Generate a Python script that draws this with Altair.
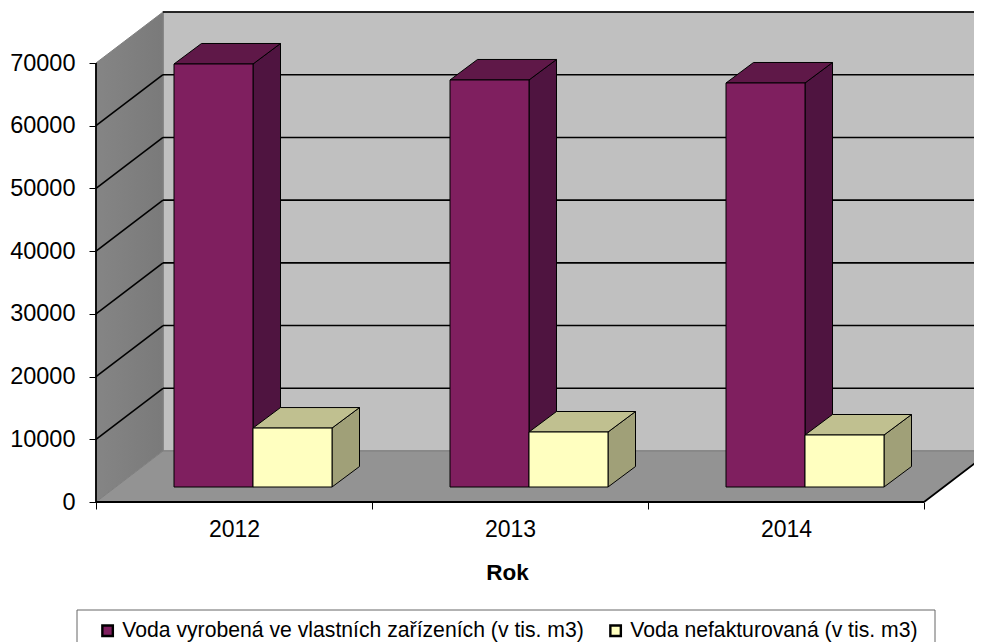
import altair as alt
import pandas as pd

years = ["2012", "2013", "2014"]
series_a = "Voda vyrobená ve vlastních zařízeních (v tis. m3)"
series_b = "Voda nefakturovaná (v tis. m3)"
values_a = [67450, 64900, 64420]
values_b = [9400, 8770, 8290]
y_ticks = [0, 10000, 20000, 30000, 40000, 50000, 60000, 70000]
y_max = 70000
n_cat = len(years)

# pseudo-3D geometry, in data units of the x (categories) and y (value) scales
DX = 67 / 276          # wall depth along x
DY = 51 / 439 * y_max  # wall depth along y
BAR_DX = 27.5 / 276    # bar depth
BAR_DY = 20.5 / 439 * y_max
BAR_X0 = 78 / 276      # gap to first bar
BAR_W = 79 / 276
BASE_Y = 15 / 439 * y_max  # bars stand on the floor, in front of the wall


def v_face(name, x0, x1, y0, y1, y0b, y1b):
    return [dict(face=name, x=x0, y=y0, y2=y1), dict(face=name, x=x1, y=y0b, y2=y1b)]


def h_face(name, y0, y1, x0, x1, x0b, x1b):
    return [dict(face=name, y=y0, x=x0, x2=x1), dict(face=name, y=y1, x=x0b, x2=x1b)]


def bar_faces(vals, slot, label):
    front, side, top = [], [], []
    for i, v in enumerate(vals):
        x0 = i + BAR_X0 + slot * BAR_W
        x1 = x0 + BAR_W
        yt = BASE_Y + v
        front += v_face(f"f{i}", x0, x1, BASE_Y, yt, BASE_Y, yt)
        side += v_face(f"s{i}", x1, x1 + BAR_DX, BASE_Y, yt, BASE_Y + BAR_DY, yt + BAR_DY)
        top += h_face(f"t{i}", yt, yt + BAR_DY, x0, x1, x0 + BAR_DX, x1 + BAR_DX)
    fr = pd.DataFrame(front)
    fr["series"] = label
    return fr, pd.DataFrame(side), pd.DataFrame(top)


X = alt.Scale(domain=[0, 878 / 276], nice=False, zero=False)
Y = alt.Scale(domain=[0, y_max + DY], nice=False, zero=False)

tick_vals = []
for i in range(n_cat):
    tick_vals += [i, i + 0.5]
tick_vals.append(n_cat)
label_expr = "".join(f"datum.value=={i + 0.5}?'{y}':" for i, y in enumerate(years)) + "''"

x_axis = alt.Axis(
    values=tick_vals, labelExpr=label_expr, title="Rok", grid=False, domain=False,
    tickSize=7, tickColor="black", tickWidth=1, labelOverlap=False,
    tickOpacity={"condition": {"test": "datum.value % 1 != 0", "value": 0}, "value": 1},
    labelFontSize=23, labelFont="Liberation Sans", labelColor="black", labelPadding=9, labelAngle=0,
    titleFontSize=22.5, titleFont="Liberation Sans", titleFontWeight="bold", titleColor="black",
    titleX=411, titleY=70, titleBaseline="middle", titleAlign="center",
)
y_axis = alt.Axis(
    values=y_ticks, title=None, grid=False, domain=False, format="d",
    tickSize=7, tickColor="black", tickWidth=1,
    labelFontSize=23.5, labelFont="Liberation Sans", labelColor="black", labelPadding=14,
)

XE = alt.X("x:Q", scale=X, axis=x_axis, stack=None)
YE = alt.Y("y:Q", scale=Y, axis=y_axis, stack=None)


def vert(df, fill, stroke="black", sw=1.0):
    return alt.Chart(df).mark_area(orient="vertical", fill=fill, stroke=stroke, strokeWidth=sw).encode(
        x=XE, y=YE, y2="y2:Q", detail="face:N",
    )


def horiz(df, fill, stroke="black", sw=1.0):
    return alt.Chart(df).mark_area(orient="horizontal", fill=fill, stroke=stroke, strokeWidth=sw).encode(
        y=YE, x=XE, x2="x2:Q", detail="face:N",
    )


back_wall = vert(pd.DataFrame(v_face("back", DX, n_cat + DX, DY, y_max + DY, DY, y_max + DY)), "#C0C0C0", "#808080", 1.5)
left_wall = vert(pd.DataFrame(v_face("left", 0, DX, 0, y_max, DY, y_max + DY)),
                 alt.LinearGradient(gradient="linear", stops=[alt.GradientStop(color="#858585", offset=0), alt.GradientStop(color="#7A7A7A", offset=1)], x1=0, x2=1, y1=0, y2=0),
                 "#808080", 1)
floor = horiz(pd.DataFrame(h_face("floor", 0, DY, 0, n_cat, DX, n_cat + DX)), "#939393", "#808080", 1)

grid_v = [v for v in y_ticks if 0 < v]
grid_back = pd.DataFrame([dict(x=DX, x2=n_cat + DX, y=v + DY) for v in grid_v])
grid_h = alt.Chart(grid_back).mark_rule(color="black", strokeWidth=1.6).encode(x=XE, x2="x2:Q", y=YE)
diag_rows = []
for v in grid_v[:-1]:
    diag_rows += [dict(g=v, x=0, y=v), dict(g=v, x=DX, y=v + DY)]
grid_d = alt.Chart(pd.DataFrame(diag_rows)).mark_line(color="black", strokeWidth=1.6).encode(x=XE, y=YE, detail="g:N")

edges = pd.DataFrame([
    dict(g="l", x=0, y=0), dict(g="l", x=0, y=y_max),
    dict(g="b", x=0, y=0), dict(g="b", x=n_cat, y=0),
    dict(g="r", x=n_cat, y=0), dict(g="r", x=n_cat + DX, y=DY),
])
edge_lines = alt.Chart(edges).mark_line(color="black", strokeWidth=1.8).encode(x=XE, y=YE, detail="g:N")

color = alt.Color(
    "series:N",
    scale=alt.Scale(domain=[series_a, series_b], range=["#7F1F5F", "#FFFFC0"]),
    legend=alt.Legend(
        title=None, orient="none", legendX=1, legendY=608, direction="horizontal", columns=2,
        symbolType="square", symbolSize=110, symbolStrokeColor="black", symbolStrokeWidth=2.4,
        symbolOpacity=1, labelFontSize=21.2, labelFont="Liberation Sans", labelColor="black",
        labelLimit=700, labelOffset=4, columnPadding=21, padding=0, rowPadding=0,
    ),
)


def front_layer(df):
    return alt.Chart(df).mark_area(orient="vertical", stroke="black", strokeWidth=1, opacity=1).encode(
        x=XE, y=YE, y2="y2:Q", detail="face:N", color=color,
    )


fa, sa, ta = bar_faces(values_a, 0, series_a)
fb, sb, tb = bar_faces(values_b, 1, series_b)

legend_box = alt.Chart(pd.DataFrame({"k": [0]})).mark_rect(fill="white", stroke="#666666", strokeWidth=1).encode(
    x=alt.value(-19), x2=alt.value(839), y=alt.value(598), y2=alt.value(650))

chart = alt.layer(
    back_wall, left_wall, floor, grid_h, grid_d,
    vert(sa, "#4F1440"), horiz(ta, "#5F1848"), front_layer(fa),
    vert(sb, "#A0A078"), horiz(tb, "#C0C090"), front_layer(fb),
    edge_lines, legend_box,
).resolve_scale(color="shared").properties(
    width=878, height=490,
    autosize=alt.AutoSizeParams(type="none"),
    padding={"left": 88, "top": 4, "right": 0, "bottom": 140},
    background="white",
).configure_view(stroke=None)

chart.save("out.html", embed_options={"renderer": "svg", "actions": False})
